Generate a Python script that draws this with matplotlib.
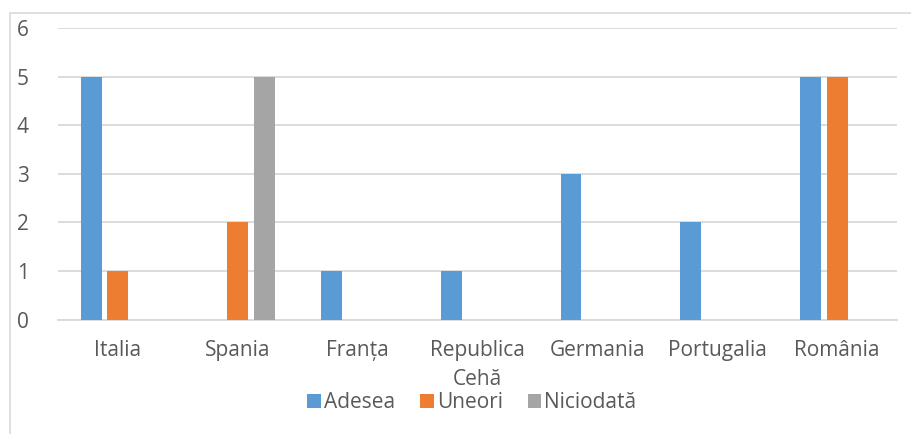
import matplotlib
matplotlib.use('Agg')
from matplotlib import pyplot as plt
from matplotlib.patches import Rectangle
import numpy as np

countries = ['Italia', 'Spania', 'Franța', 'Republica\nCehă', 'Germania', 'Portugalia', 'România']
adesea = [5, 0, 1, 1, 3, 2, 5]
uneori = [1, 2, 0, 0, 0, 0, 5]
niciodata = [0, 5, 0, 0, 0, 0, 0]
series_names = ['Adesea', 'Uneori', 'Niciodată']
colors = ['#5B9BD5', '#ED7D31', '#A5A5A5']

plt.rcParams['font.family'] = ['Open Sans', 'DejaVu Sans']

fig = plt.figure(figsize=(9.12, 4.34), dpi=100)
ax = fig.add_axes([58 / 912, 1 - 319.5 / 434, 839 / 912, 291.5 / 434])

# chart area border
fig.patches.append(Rectangle((10 / 912, -0.1), 1.2, 1 - 13 / 434 + 0.1,
                             transform=fig.transFigure, fill=False,
                             edgecolor='#D9D9D9', linewidth=1.2))

x = np.arange(len(countries))
width = 0.175
step = 0.22
for i, (vals, name) in enumerate(zip([adesea, uneori, niciodata], series_names)):
    ax.bar(x + (i - 1) * step, vals, width, color=colors[i], label=name, zorder=3)

ax.set_xlim(-0.5, len(countries) - 0.5)
ax.set_ylim(0, 6)
ax.set_yticks(range(0, 7))
ax.set_xticks(x)
ax.set_xticklabels(countries, linespacing=1.45)
ax.yaxis.grid(True, color='#D9D9D9', linewidth=1.3, zorder=0)
for s in ['top', 'right', 'left']:
    ax.spines[s].set_visible(False)
ax.spines['bottom'].set_color('#D9D9D9')
ax.spines['bottom'].set_linewidth(1.3)
ax.tick_params(axis='both', length=0, colors='#595959', labelsize=15)
ax.tick_params(axis='y', pad=21)
ax.tick_params(axis='x', pad=15)

leg = ax.legend(loc='center', bbox_to_anchor=(472 / 912, 1 - 403 / 434),
                bbox_transform=fig.transFigure, ncol=3, frameon=False,
                fontsize=15, handlelength=0.65, handleheight=0.65,
                handletextpad=0.15, columnspacing=1.2)
for t in leg.get_texts():
    t.set_color('#595959')

fig.savefig('out.png', dpi=100)
